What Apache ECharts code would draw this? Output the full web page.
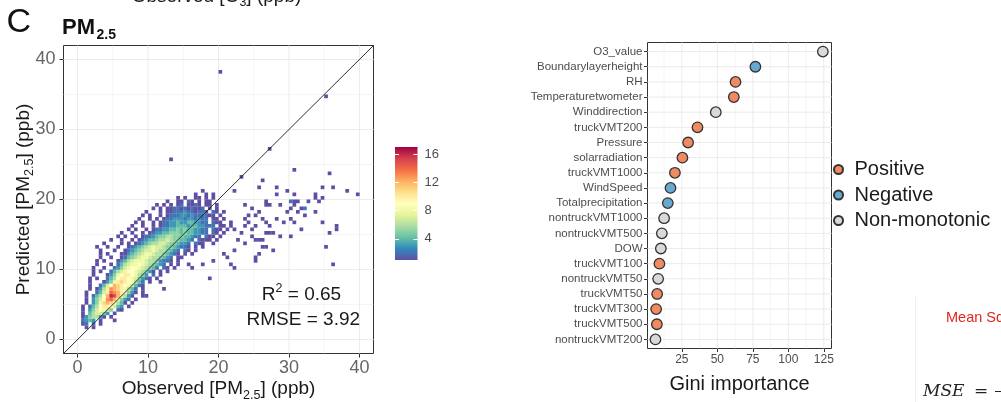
<!DOCTYPE html>
<html>
<head>
<meta charset="utf-8">
<script src="https://cdn.jsdelivr.net/npm/echarts@6/dist/echarts.min.js"></script>
<style>
  html, body { margin: 0; padding: 0; background: #fff; }
  #chart { width: 1001px; height: 402px; }
</style>
</head>
<body>
<div id="chart"></div>
<script>
// ---- PM2.5: observed vs predicted, counts per 0.5 x 0.5 ppb bin ----
const BIN = 0.5;
// [y of bin bottom, index of first x bin, counts: '.' empty, 1-9, a=10 ... h=17]
const binRows = [
  [1.5, 2, "1.1"],
  [2.0, 1, "12.2.1"],
  [2.5, 1, "2343.1...1"],
  [3.0, 1, "1356631.1"],
  [3.5, 1, "1.467753.1"],
  [4.0, 1, "1.3579875.21"],
  [4.5, 1, "1.2469aa9743.1"],
  [5.0, 2, "1.358bcb8641.1"],
  [5.5, 2, "1.3579dec8532.1"],
  [6.0, 2, "1.2469cgfca631..1"],
  [6.5, 2, "1..247aedca8531.1"],
  [7.0, 3, "1.136adcba8642.1"],
  [7.5, 3, "1..2479cba987421"],
  [8.0, 3, "1...1358aba98642.1..1"],
  [8.5, 3, "1.1..2469aa9875321.1"],
  [9.0, 4, "1...13589aa98653.2.1"],
  [9.5, 4, "1.1..2467899876531.1.1"],
  [10.0, 4, "1..1..2357899876542.21.1"],
  [10.5, 5, "1...1.24678898765432.1.1"],
  [11.0, 5, "1.1...1346788876653221.1"],
  [11.5, 6, "1..1..124567887665432.11"],
  [12.0, 6, "1.1...11345678876654321.1.1"],
  [12.5, 6, "1...1..1234567787665432.21.1"],
  [13.0, 5, "1..1..1..123456787765543221.1.1"],
  [13.5, 7, "1....1.1.1234566776554332.211..1"],
  [14.0, 9, "1..1..1.1234456676554432.2111.1"],
  [14.5, 11, "1.1..1.12234556655544322.211.1"],
  [15.0, 12, "1..1..1.12334455545443322.21.1"],
  [15.5, 14, "1.1..1.1223344545443322.211.1.1"],
  [16.0, 15, "1..1..1.1223344434433222.11.1"],
  [16.5, 16, "1.1..1.12233433443322.211..1"],
  [17.0, 17, "1..1.1.1223332332322.11.1"],
  [17.5, 18, "1.1..1.12223323222211.1"],
  [18.0, 19, "1...1.112223221221.21.1"],
  [18.5, 21, "1.1.11221212112.1.1"],
  [19.0, 22, "1.1.1.12.1121.11.1"],
  [19.5, 25, "1..11.21.1.11"],
  [20.0, 28, "1.1..11.1.1"],
  [20.5, 33, "1..1.1"],
  [21.0, 35, "1"]
];
// isolated bins away from the main band: [x of bin left, y of bin bottom, count]
const sparseBins = [
  [20.0, 38.0, 1], [13.0, 25.5, 1], [35.0, 34.5, 1], [27.0, 27.0, 1], [23.0, 23.0, 1],
  [30.5, 24.0, 1], [35.5, 23.5, 1], [26.0, 22.5, 1], [28.0, 21.5, 1], [34.5, 21.5, 1],
  [36.0, 21.5, 1], [25.5, 21.5, 1], [38.0, 21.0, 1], [29.5, 21.0, 1], [22.0, 21.0, 1],
  [39.5, 20.5, 1], [30.5, 20.5, 1], [33.5, 20.5, 1], [28.0, 20.5, 1], [33.5, 20.0, 1],
  [34.5, 20.0, 1], [26.5, 19.5, 1], [30.0, 19.5, 2], [30.5, 19.5, 1], [31.0, 19.5, 1],
  [32.5, 19.5, 1], [34.0, 19.5, 1], [26.5, 19.0, 1], [27.0, 19.0, 1], [28.5, 19.0, 1],
  [30.5, 19.0, 1], [23.5, 19.0, 1], [30.0, 18.5, 1], [31.5, 18.5, 1], [32.0, 18.5, 2],
  [24.5, 18.5, 1], [29.5, 18.0, 1], [31.0, 18.0, 1], [33.5, 18.0, 1], [25.5, 18.0, 1],
  [25.0, 17.5, 1], [32.0, 17.5, 1], [24.0, 17.5, 1], [26.0, 17.0, 1], [28.0, 17.0, 1],
  [30.0, 17.0, 1], [23.5, 17.0, 1], [26.5, 16.5, 1], [29.0, 16.5, 1], [30.5, 16.5, 1],
  [34.5, 16.5, 1], [24.0, 16.5, 1], [27.0, 16.0, 1], [36.5, 16.0, 1], [23.5, 16.0, 1],
  [25.0, 16.0, 1], [31.5, 15.5, 1], [36.5, 15.5, 1], [24.5, 15.5, 1], [27.0, 15.0, 1],
  [27.5, 15.0, 1], [26.5, 15.0, 1], [35.5, 15.0, 1], [23.0, 15.0, 1], [30.0, 14.5, 1],
  [28.5, 14.5, 1], [24.5, 14.5, 1], [26.0, 14.0, 1], [25.0, 14.0, 1], [25.5, 14.0, 1],
  [22.5, 14.0, 1], [23.5, 13.5, 1], [26.0, 13.0, 1], [26.5, 13.0, 1], [35.0, 13.0, 1],
  [27.5, 12.5, 1], [22.0, 12.5, 1], [25.5, 12.0, 1], [20.5, 12.0, 1], [25.0, 11.5, 1],
  [21.0, 11.5, 1], [25.0, 11.0, 1], [19.0, 11.0, 1], [17.5, 10.5, 1], [36.0, 10.5, 1],
  [21.5, 10.5, 1], [15.5, 10.5, 1], [22.0, 10.0, 1], [16.0, 10.0, 1], [18.5, 8.5, 1],
  [12.0, 7.0, 1], [9.5, 6.0, 1]
];
const pmRange = [-2, 42];
const pmTicks = [0, 10, 20, 30, 40];
const pmMinorTicks = [5, 15, 25, 35];
const countRange = [1, 17];
const countTicks = [4, 8, 12, 16];
// reversed ColorBrewer Spectral
const spectral = ['#5E4FA2', '#3288BD', '#66C2A5', '#ABDDA4', '#E6F598', '#FFFFBF',
                  '#FEE08B', '#FDAE61', '#F46D43', '#D53E4F', '#9E0142'];

// ---- variable importance ----
const giniVars = ['O3_value', 'Boundarylayerheight', 'RH', 'Temperaturetwometer', 'Winddirection',
  'truckVMT200', 'Pressure', 'solarradiation', 'truckVMT1000', 'WindSpeed', 'Totalprecipitation',
  'nontruckVMT1000', 'nontruckVMT500', 'DOW', 'truckVMT100', 'nontruckVMT50', 'truckVMT50',
  'truckVMT300', 'truckVMT500', 'nontruckVMT200'];
const giniValues = [124.3, 76.8, 62.8, 61.6, 48.9, 36.0, 29.4, 25.4, 20.1, 17.0, 15.1,
  12.5, 10.9, 10.2, 9.2, 8.3, 7.6, 6.9, 7.4, 6.4];
const giniEffect = ['Non-monotonic', 'Negative', 'Positive', 'Positive', 'Non-monotonic',
  'Positive', 'Positive', 'Positive', 'Positive', 'Negative', 'Negative',
  'Non-monotonic', 'Non-monotonic', 'Non-monotonic', 'Positive', 'Non-monotonic', 'Positive',
  'Positive', 'Positive', 'Non-monotonic'];
const effectNames = ['Positive', 'Negative', 'Non-monotonic'];
const effectColors = ['#EF8A62', '#67A9CF', '#D9D9D9'];
const giniRange = [0.8, 130.4];
const giniTicks = [25, 50, 75, 100, 125];
const giniMinorTicks = [12.5, 37.5, 62.5, 87.5, 112.5];
const giniRows = giniVars.map((_, i) => i);

const FONT = '"Liberation Sans", Arial, Helvetica, sans-serif';

// expand the row strings into [x, y, count] cells
const binCells = [];
binRows.forEach(([y, start, s]) => {
  for (let k = 0; k < s.length; k++) {
    const n = parseInt(s[k], 36);
    if (!isNaN(n)) binCells.push([(start + k) * BIN, y, n]);
  }
});
sparseBins.forEach(c => binCells.push(c));

// thin reference lines drawn through the axis scales
function refLines(xi, yi, values, vertical, span, color, width) {
  return {
    type: 'custom', xAxisIndex: xi, yAxisIndex: yi, silent: true, z: 1,
    data: values.map(v => vertical ? [v, span[0]] : [span[0], v]),
    renderItem(params, api) {
      const v = api.value(vertical ? 0 : 1);
      const p1 = vertical ? api.coord([v, span[0]]) : api.coord([span[0], v]);
      const p2 = vertical ? api.coord([v, span[1]]) : api.coord([span[1], v]);
      return { type: 'line', shape: { x1: p1[0], y1: p1[1], x2: p2[0], y2: p2[1] },
               style: { stroke: color, lineWidth: width } };
    }
  };
}

const tickStyle = { color: '#333', width: 1 };
const hidden = { show: false, onZero: false };
const subRich = { s: { fontSize: 12.5, lineHeight: 13, fontFamily: FONT, verticalAlign: 'bottom' } };

const option = {
  animation: false,
  backgroundColor: '#fff',
  grid: [
    { left: 63.5, top: 45.5, width: 310, height: 308, show: true, borderColor: '#333', borderWidth: 1 },
    { left: 395, top: 147, width: 22.5, height: 113 },
    { left: 647.5, top: 42.5, width: 184, height: 306, show: true, borderColor: '#333', borderWidth: 1 }
  ],
  xAxis: [
    { gridIndex: 0, type: 'value', min: pmRange[0], max: pmRange[1],
      axisLine: hidden, splitLine: { show: false },
      axisTick: { show: true, length: 4, lineStyle: tickStyle, customValues: pmTicks },
      axisLabel: { customValues: pmTicks, fontSize: 18, color: '#666', margin: 6, fontFamily: FONT } },
    { gridIndex: 1, type: 'value', min: 0, max: 1, show: false },
    { gridIndex: 2, type: 'value', min: giniRange[0], max: giniRange[1],
      axisLine: hidden, splitLine: { show: false },
      axisTick: { show: true, length: 3.5, lineStyle: tickStyle, customValues: giniTicks },
      axisLabel: { customValues: giniTicks, fontSize: 12, color: '#4d4d4d', margin: 5, fontFamily: FONT } }
  ],
  yAxis: [
    { gridIndex: 0, type: 'value', min: pmRange[0], max: pmRange[1],
      axisLine: hidden, splitLine: { show: false },
      axisTick: { show: true, length: 4, lineStyle: tickStyle, customValues: pmTicks },
      axisLabel: { customValues: pmTicks, fontSize: 18, color: '#666', margin: 8, fontFamily: FONT } },
    { gridIndex: 1, type: 'value', min: countRange[0], max: countRange[1], position: 'right', z: 5,
      axisLine: hidden, splitLine: { show: false },
      axisTick: { show: true, inside: true, length: 4, lineStyle: { color: '#fff', width: 1 }, customValues: countTicks },
      axisLabel: { customValues: countTicks, fontSize: 13, color: '#4d4d4d', margin: 7, fontFamily: FONT } },
    { gridIndex: 1, type: 'value', min: countRange[0], max: countRange[1], position: 'left', z: 5,
      axisLine: hidden, splitLine: { show: false },
      axisTick: { show: true, inside: true, length: 4, lineStyle: { color: '#fff', width: 1 }, customValues: countTicks },
      axisLabel: { show: false } },
    { gridIndex: 2, type: 'value', inverse: true, min: -0.6, max: giniVars.length - 0.4,
      axisLine: hidden, splitLine: { show: false },
      axisTick: { show: true, length: 3.5, lineStyle: tickStyle, customValues: giniRows },
      axisLabel: { customValues: giniRows, formatter: v => giniVars[Math.round(v)],
                   fontSize: 11.5, color: '#4d4d4d', margin: 5, fontFamily: FONT } }
  ],
  visualMap: {
    type: 'continuous', show: false, seriesIndex: 4, dimension: 2,
    min: countRange[0], max: countRange[1], inRange: { color: spectral }
  },
  legend: {
    data: effectNames, orient: 'vertical', left: 833, top: 159.5, padding: 0,
    itemWidth: 22, itemHeight: 9, itemGap: 5.5, selectedMode: false,
    textStyle: { fontSize: 20, lineHeight: 20, color: '#1a1a1a', fontFamily: FONT }
  },
  series: [
    refLines(0, 0, pmTicks, true, pmRange, '#EBEBEB', 1),
    refLines(0, 0, pmMinorTicks, true, pmRange, '#EFEFEF', 0.6),
    refLines(0, 0, pmTicks, false, pmRange, '#EBEBEB', 1),
    refLines(0, 0, pmMinorTicks, false, pmRange, '#EFEFEF', 0.6),
    {
      type: 'custom', name: 'count', xAxisIndex: 0, yAxisIndex: 0, z: 2, silent: true,
      encode: { x: 0, y: 1 },
      data: binCells,
      renderItem(params, api) {
        const p = api.coord([api.value(0), api.value(1) + BIN]);
        const s = api.size([BIN, BIN]);
        return { type: 'rect', shape: { x: p[0], y: p[1], width: s[0] + 0.2, height: s[1] + 0.2 },
                 style: { fill: api.visual('color') } };
      }
    },
    {
      type: 'line', xAxisIndex: 0, yAxisIndex: 0, z: 3, silent: true, symbol: 'none',
      data: [[pmRange[0], pmRange[0]], [pmRange[1], pmRange[1]]],
      lineStyle: { color: '#1a1a1a', width: 0.9 }
    },
    {
      type: 'custom', xAxisIndex: 1, yAxisIndex: 1, z: 2, silent: true,
      data: [[0, countRange[0]]],
      renderItem(params, api) {
        const p1 = api.coord([0, countRange[1]]);
        const p2 = api.coord([1, countRange[0]]);
        return {
          type: 'rect',
          shape: { x: p1[0], y: p1[1], width: p2[0] - p1[0], height: p2[1] - p1[1] },
          style: { fill: new echarts.graphic.LinearGradient(0, 1, 0, 0,
            spectral.map((c, i) => ({ offset: i / (spectral.length - 1), color: c }))) }
        };
      }
    },
    refLines(2, 3, giniTicks, true, [-0.6, giniVars.length - 0.4], '#EBEBEB', 1),
    refLines(2, 3, giniMinorTicks, true, [-0.6, giniVars.length - 0.4], '#EFEFEF', 0.6),
    refLines(2, 3, giniRows, false, giniRange, '#EBEBEB', 1),
    ...effectNames.map((name, k) => ({
      type: 'scatter', name, xAxisIndex: 2, yAxisIndex: 3, z: 4, silent: true,
      symbol: 'circle', symbolSize: 10.5,
      itemStyle: { color: effectColors[k], borderColor: '#333', borderWidth: 1.3, opacity: 1 },
      data: giniValues.map((v, i) => giniEffect[i] === name ? [v, i] : null).filter(Boolean)
    }))
  ],
  graphic: [
    // axis title of the panel above, mostly outside the page
    { type: 'text', x: 216.5, y: -3.5, silent: true,
      style: { text: 'Observed [O{s|3}] (ppb)', fontSize: 19, fontFamily: FONT, lineHeight: 26,
               fill: '#1a1a1a', align: 'center', verticalAlign: 'middle', rich: subRich } },
    { type: 'text', x: 6.5, y: 23, silent: true,
      style: { text: 'C', fontSize: 34, fontFamily: FONT, fill: '#111', align: 'left', verticalAlign: 'middle' } },
    { type: 'text', x: 62, y: 27.5, silent: true,
      style: { text: 'PM', fontSize: 22, fontWeight: 'bold', fontFamily: FONT, fill: '#111', align: 'left', verticalAlign: 'middle' } },
    { type: 'text', x: 96.5, y: 35, silent: true,
      style: { text: '2.5', fontSize: 14, fontWeight: 'bold', fontFamily: FONT, fill: '#111', align: 'left', verticalAlign: 'middle' } },
    { type: 'text', x: 218.5, y: 389, silent: true,
      style: { text: 'Observed [PM{s|2.5}] (ppb)', fontSize: 19, fontFamily: FONT, lineHeight: 26,
               fill: '#1a1a1a', align: 'center', verticalAlign: 'middle', rich: subRich } },
    { type: 'text', x: 23.5, y: 199.5, rotation: Math.PI / 2, silent: true,
      style: { text: 'Predicted [PM{s|2.5}] (ppb)', fontSize: 19, fontFamily: FONT, lineHeight: 26,
               fill: '#1a1a1a', align: 'center', verticalAlign: 'middle', rich: subRich } },
    { type: 'text', x: 301.5, y: 295, silent: true, z: 10,
      style: { text: 'R{p|2} = 0.65', fontSize: 19, fontFamily: FONT, lineHeight: 26,
               fill: '#1a1a1a', align: 'center', verticalAlign: 'middle',
               rich: { p: { fontSize: 12.5, lineHeight: 12, fontFamily: FONT, verticalAlign: 'top' } } } },
    { type: 'text', x: 303.3, y: 320, silent: true, z: 10,
      style: { text: 'RMSE = 3.92', fontSize: 19, fontFamily: FONT, fill: '#1a1a1a',
               align: 'center', verticalAlign: 'middle' } },
    { type: 'text', x: 739.5, y: 384, silent: true,
      style: { text: 'Gini importance', fontSize: 20, fontFamily: FONT, fill: '#1a1a1a',
               align: 'center', verticalAlign: 'middle' } },
    { type: 'line', silent: true, shape: { x1: 915.5, y1: 297, x2: 915.5, y2: 402 },
      style: { stroke: '#efefef', lineWidth: 1 } },
    { type: 'text', x: 946, y: 318, silent: true,
      style: { text: 'Mean Squared Error', fontSize: 14.5, fontFamily: FONT, fill: '#e0261e',
               align: 'left', verticalAlign: 'middle' } },
    { type: 'text', x: 923, y: 392, silent: true,
      style: { text: 'MSE', fontSize: 17, fontStyle: 'italic', fontFamily: '"DejaVu Serif", "Liberation Serif", serif',
               fill: '#222', align: 'left', verticalAlign: 'middle' } },
    { type: 'text', x: 974, y: 392, silent: true,
      style: { text: '=', fontSize: 17, fontFamily: '"DejaVu Serif", "Liberation Serif", serif',
               fill: '#222', align: 'left', verticalAlign: 'middle' } },
    { type: 'line', silent: true, shape: { x1: 995, y1: 391.5, x2: 1001, y2: 391.5 },
      style: { stroke: '#222', lineWidth: 1 } }
  ]
};

const chart = echarts.init(document.getElementById('chart'), null, { renderer: 'canvas' });
chart.setOption(option);
</script>
</body>
</html>
